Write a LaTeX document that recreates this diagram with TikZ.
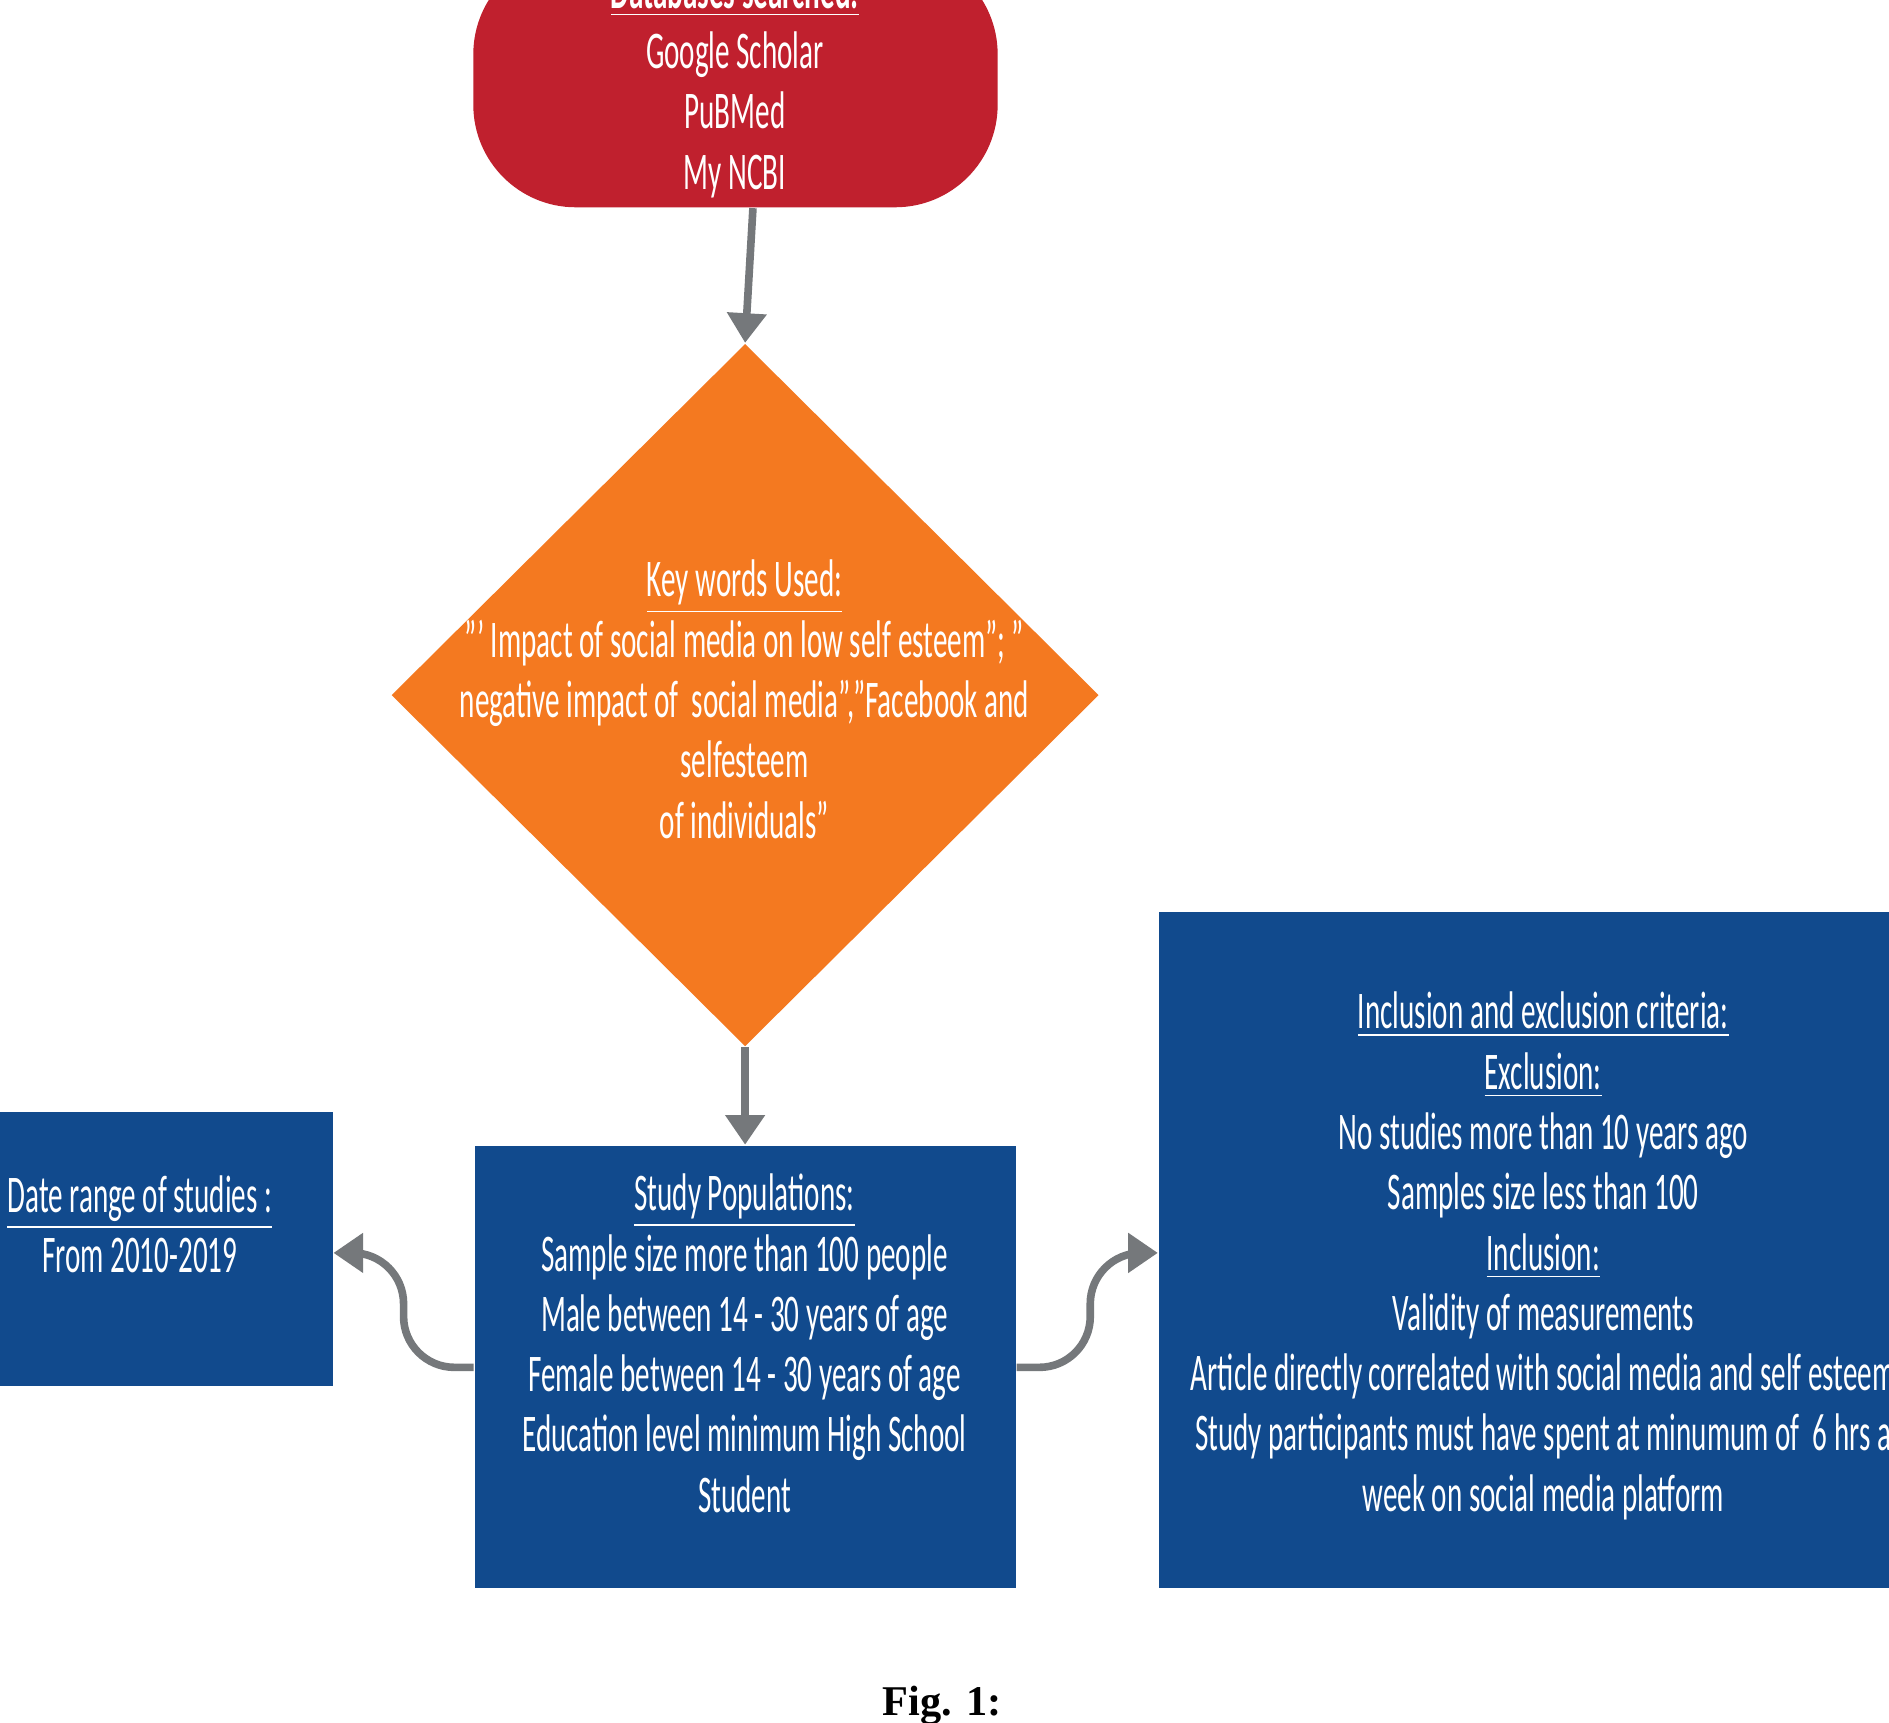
\documentclass[tikz,border=0pt]{standalone}
\usepackage{fontspec}
\usepackage{graphicx}
\setmainfont{Carlito}
\usetikzlibrary{shapes.geometric,arrows.meta}
\definecolor{cred}{HTML}{C0202E}
\definecolor{corange}{HTML}{F47920}
\definecolor{cblue}{HTML}{114A8D}
\definecolor{cgray}{HTML}{75787B}
\newcommand\sq[1]{\scalebox{0.55}[1]{#1}}
\begin{document}
\begin{tikzpicture}[x=0.01cm,y=-0.01cm,
  shp/.style={draw=none,inner sep=0pt},
  txt/.style={text=white,align=center,font=\fontsize{12.5}{14.23}\selectfont,inner sep=0pt},
  conn/.style={draw=cgray,line width=1.8pt,-{Triangle[length=7pt,width=9pt]},rounded corners=12pt}]
\useasboundingbox (0,0) rectangle (1568,1430);
\clip (0,0) rectangle (1568,1430);
\fill[white] (0,0) rectangle (1568,1430);
\node[shp,fill=cred,rounded corners=0.85cm,minimum width=4.35cm,minimum height=2.12cm] (db) at (610.5,66) {};
\node[txt] (dbt) at (610,70) {\sq{\underline{\textbf{Databases searched:}}}\\\sq{Google Scholar}\\\sq{PuBMed}\\\sq{My NCBI}};
\node[shp,diamond,fill=corange,minimum width=5.87cm,minimum height=5.83cm] (kw) at (618.5,577) {};
\node[txt] (kwt) at (618,580.5) {\sq{\underline{Key words Used:}}\\\sq{"' Impact of social media on low self esteem"; "}\\\sq{negative impact of\ \ social media","Facebook and}\\\sq{selfesteem}\\\sq{of individuals"}};
\node[shp,fill=cblue,minimum width=2.96cm,minimum height=2.27cm] (dr) at (128,1036.5) {};
\node[txt] (drt) at (116,1016) {\sq{\underline{Date range of studies :}}\\\sq{From 2010-2019}};
\node[shp,fill=cblue,minimum width=4.49cm,minimum height=3.67cm] (sp) at (618.5,1134.5) {};
\node[txt] (spt) at (618,1115) {\sq{\underline{Study Populations:}}\\\sq{Sample size more than 100 people}\\\sq{Male between 14 - 30 years of age}\\\sq{Female between 14 - 30 years of age}\\\sq{Education level minimum High School}\\\sq{Student}};
\node[shp,fill=cblue,minimum width=6.38cm,minimum height=5.61cm] (ie) at (1281,1037.5) {};
\node[txt] (iet) at (1281,1042.5) {\sq{\underline{Inclusion and exclusion criteria:}}\\\sq{\underline{Exclusion:}}\\\sq{No studies more than 10 years ago}\\\sq{Samples size less than 100}\\\sq{\underline{Inclusion:}}\\\sq{Validity of measurements}\\\sq{Article directly correlated with social media and self esteem}\\\sq{Study participants must have spent at minumum of\ \ 6 hrs a}\\\sq{week on social media platform}};
\node[font=\fontsize{10}{12}\selectfont,inner sep=0pt] (cap) at (782,1416) {\fontspec{Liberation Serif}\bfseries Fig. 1:};
\draw[conn] (db.south -| 625,0) -- (kw.north);
\draw[conn] (kw.south) -- (sp.north);
\draw[conn] (sp.west |- 0,1135) -- (335,1135) -- (335,1040) -- (dr.east |- 0,1040);
\draw[conn] (sp.east |- 0,1135) -- (905,1135) -- (905,1040) -- (ie.west |- 0,1040);
\end{tikzpicture}
\end{document}
